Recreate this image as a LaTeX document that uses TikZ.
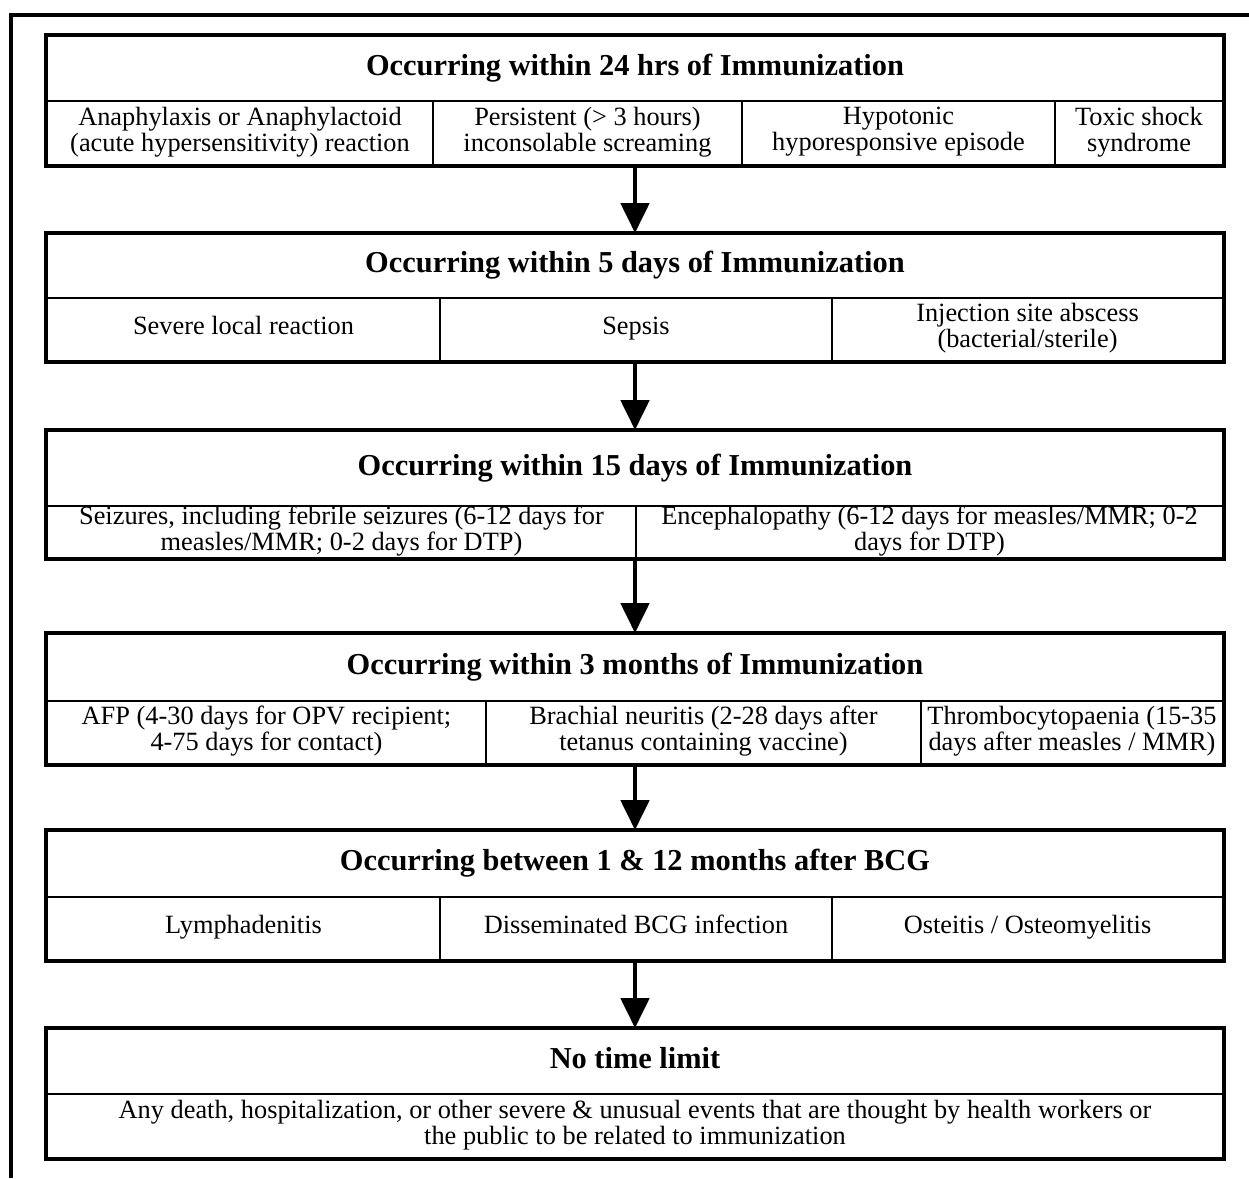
\documentclass[tikz,border=0pt]{standalone}
\usepackage{fontspec}
\setmainfont{Liberation Serif}
\usetikzlibrary{arrows.meta}

\tikzset{
  cell/.style={draw, line width=1.1pt, inner sep=0pt, align=center,
    font=\fontsize{15}{14.8}\selectfont,
    execute at begin node=\strut, execute at end node=\strut},
  head/.style={cell, font=\bfseries\fontsize{17.3}{19}\selectfont},
  band/.style={line width=1.8pt},
  frame/.style={line width=1.8pt},
  down/.style={line width=2.4pt, -{Triangle[width=16pt, length=17pt]}}
}
% style, name, x1, y1, x2, y2 (pixels), text
\newcommand{\cellbox}[7]{%
  \node[#1, minimum width={(#5-#3)*0.02cm}, minimum height={(#6-#4)*0.02cm}]
    (#2) at ({(#3+#5)/2},{(#4+#6)/2}) {#7};}

\begin{document}
\begin{tikzpicture}[x=0.02cm, y=-0.02cm]
    \useasboundingbox (0,0) rectangle (1249,1178);
    % outer frame
    \draw[frame] (1249,15) -- (11,15) -- (11,1178);

    % band 1
    \cellbox{head}{h1}{47}{36}{1223}{101}{Occurring within 24 hrs of Immunization}
    \cellbox{cell}{c11}{47}{101}{433}{165}{Anaphylaxis or Anaphylactoid\\(acute hypersensitivity) reaction}
    \cellbox{cell}{c12}{433}{101}{742}{165}{Persistent (> 3 hours)\\inconsolable screaming}
    \cellbox{cell}{c13}{742}{101}{1055}{165}{Hypotonic\\hyporesponsive episode}
    \cellbox{cell}{c14}{1055}{101}{1223}{165}{Toxic shock\\syndrome}
    \draw[band] (h1.north west) rectangle (c14.south east);

    % band 2
    \cellbox{head}{h2}{47}{234}{1223}{298}{Occurring within 5 days of Immunization}
    \cellbox{cell}{c21}{47}{298}{440}{361}{Severe local reaction}
    \cellbox{cell}{c22}{440}{298}{832}{361}{Sepsis}
    \cellbox{cell}{c23}{832}{298}{1223}{361}{Injection site abscess\\(bacterial/sterile)}
    \draw[band] (h2.north west) rectangle (c23.south east);

    % band 3
    \cellbox{head}{h3}{47}{431}{1223}{506}{Occurring within 15 days of Immunization}
    \cellbox{cell}{c31}{47}{506}{636}{558}{Seizures, including febrile seizures (6-12 days for\\measles/MMR; 0-2 days for DTP)}
    \cellbox{cell}{c32}{636}{506}{1223}{558}{Encephalopathy (6-12 days for measles/MMR; 0-2\\days for DTP)}
    \draw[band] (h3.north west) rectangle (c32.south east);

    % band 4
    \cellbox{head}{h4}{47}{634}{1223}{701}{Occurring within 3 months of Immunization}
    \cellbox{cell}{c41}{47}{701}{486}{764}{AFP (4-30 days for OPV recipient;\\4-75 days for contact)}
    \cellbox{cell}{c42}{486}{701}{921}{764}{Brachial neuritis (2-28 days after\\tetanus containing vaccine)}
    \cellbox{cell}{c43}{921}{701}{1223}{764}{Thrombocytopaenia (15-35\\days after measles / MMR)}
    \draw[band] (h4.north west) rectangle (c43.south east);

    % band 5
    \cellbox{head}{h5}{47}{831}{1223}{897}{Occurring between 1 \& 12 months after BCG}
    \cellbox{cell}{c51}{47}{897}{440}{960}{Lymphadenitis}
    \cellbox{cell}{c52}{440}{897}{832}{960}{Disseminated BCG infection}
    \cellbox{cell}{c53}{832}{897}{1223}{960}{Osteitis / Osteomyelitis}
    \draw[band] (h5.north west) rectangle (c53.south east);

    % band 6
    \cellbox{head}{h6}{47}{1029}{1223}{1094}{No time limit}
    \cellbox{cell}{c61}{47}{1094}{1223}{1158}{Any death, hospitalization, or other severe \& unusual events that are thought by health workers or\\the public to be related to immunization}
    \draw[band] (h6.north west) rectangle (c61.south east);

    % arrows
    \draw[down] (h1.south |- c12.south) -- (h2.north);
    \draw[down] (h2.south |- c22.south) -- (h3.north);
    \draw[down] (h3.south |- c31.south) -- (h4.north);
    \draw[down] (h4.south |- c42.south) -- (h5.north);
    \draw[down] (h5.south |- c52.south) -- (h6.north);
\end{tikzpicture}
\end{document}
